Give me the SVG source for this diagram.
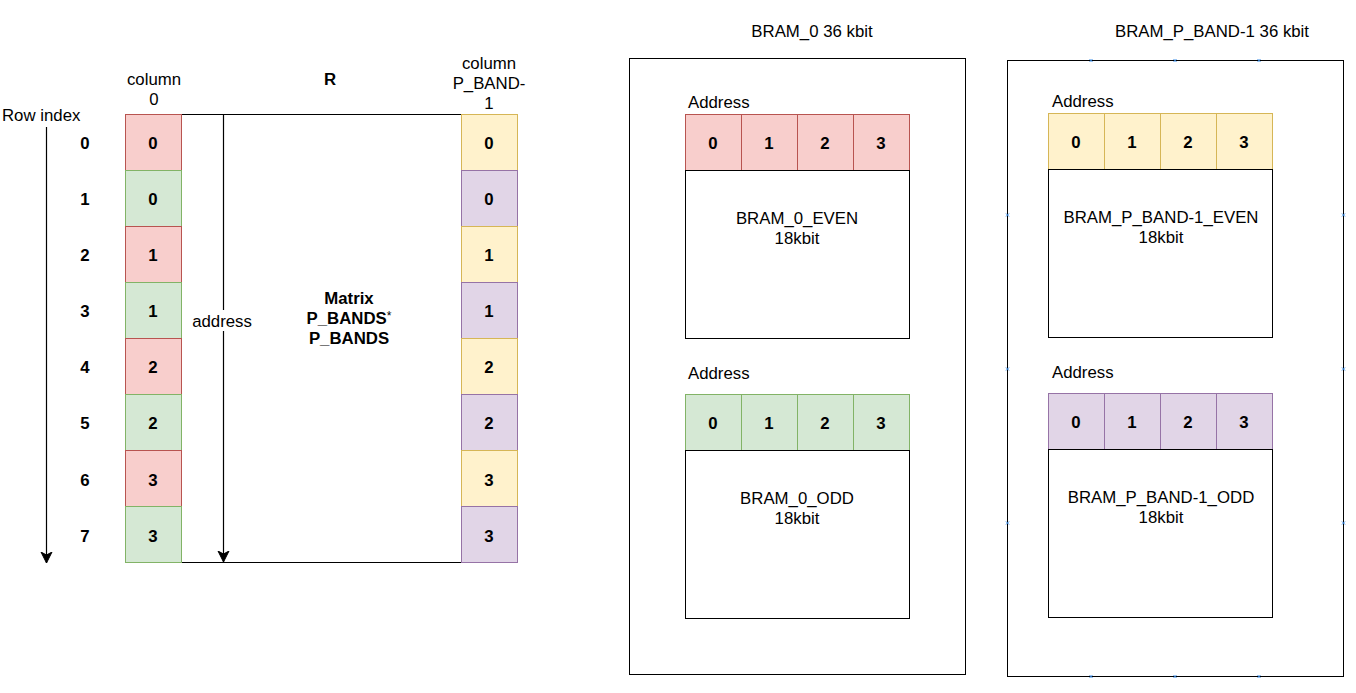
<svg xmlns="http://www.w3.org/2000/svg" width="1356" height="693" viewBox="0 0 1356 693">
<defs>
<style>
text{font-family:"Liberation Sans",Arial,sans-serif;font-size:16.8px;fill:#000}
.b{font-weight:bold}
.m{text-anchor:middle}
.red{fill:#f8cecc;stroke:#b85450;stroke-width:1}
.grn{fill:#d5e8d4;stroke:#82b366;stroke-width:1}
.yel{fill:#fff2cc;stroke:#d6b656;stroke-width:1}
.pur{fill:#e1d5e7;stroke:#9673a6;stroke-width:1}
.box{fill:#fff;stroke:#000;stroke-width:1}
.ln{fill:none;stroke:#000;stroke-width:1.2}
.x{stroke:#3b8ee8;stroke-width:1}
</style>
<marker id="arr" markerWidth="12" markerHeight="14" viewBox="0 0 12 14" refX="11" refY="7" orient="auto" markerUnits="userSpaceOnUse">
<path d="M0,1.5 L11,7 L0,12.5 L3,7 Z" fill="#000" stroke="#000" stroke-width="1"/>
</marker>
</defs>
<rect width="1356" height="693" fill="#fff"/>

<g id="matrix">
<rect class="box" x="125.5" y="114.5" width="392" height="448"/>
<text class="b m" x="330" y="85">R</text>
<text class="b m" x="349" y="304">Matrix</text>
<text class="b m" x="349" y="324">P_BANDS<tspan style="font-weight:normal;font-size:12px" dy="-4">*</tspan></text>
<text class="b m" x="349" y="344">P_BANDS</text>
</g>

<g id="row-index">
<text x="2" y="121">Row index</text>
<text class="b m" x="85" y="149">0</text>
<text class="b m" x="85" y="205">1</text>
<text class="b m" x="85" y="261">2</text>
<text class="b m" x="85" y="317">3</text>
<text class="b m" x="85" y="373">4</text>
<text class="b m" x="85" y="429">5</text>
<text class="b m" x="85" y="486">6</text>
<text class="b m" x="85" y="542">7</text>
</g>

<g id="column0">
<text class="m" x="154" y="85">column</text>
<text class="m" x="154" y="105">0</text>
<rect class="red" x="125.5" y="114.5" width="56" height="56"/>
<rect class="grn" x="125.5" y="170.5" width="56" height="56"/>
<rect class="red" x="125.5" y="226.5" width="56" height="56"/>
<rect class="grn" x="125.5" y="282.5" width="56" height="56"/>
<rect class="red" x="125.5" y="338.5" width="56" height="56"/>
<rect class="grn" x="125.5" y="394.5" width="56" height="56"/>
<rect class="red" x="125.5" y="450.5" width="56" height="56"/>
<rect class="grn" x="125.5" y="506.5" width="56" height="56"/>
<text class="b m" x="153" y="149">0</text>
<text class="b m" x="153" y="205">0</text>
<text class="b m" x="153" y="261">1</text>
<text class="b m" x="153" y="317">1</text>
<text class="b m" x="153" y="373">2</text>
<text class="b m" x="153" y="429">2</text>
<text class="b m" x="153" y="486">3</text>
<text class="b m" x="153" y="542">3</text>
</g>

<g id="columnP">
<text class="m" x="489" y="69">column</text>
<text class="m" x="489" y="89">P_BAND-</text>
<text class="m" x="489" y="109">1</text>
<rect class="yel" x="461.5" y="114.5" width="56" height="56"/>
<rect class="pur" x="461.5" y="170.5" width="56" height="56"/>
<rect class="yel" x="461.5" y="226.5" width="56" height="56"/>
<rect class="pur" x="461.5" y="282.5" width="56" height="56"/>
<rect class="yel" x="461.5" y="338.5" width="56" height="56"/>
<rect class="pur" x="461.5" y="394.5" width="56" height="56"/>
<rect class="yel" x="461.5" y="450.5" width="56" height="56"/>
<rect class="pur" x="461.5" y="506.5" width="56" height="56"/>
<text class="b m" x="489" y="149">0</text>
<text class="b m" x="489" y="205">0</text>
<text class="b m" x="489" y="261">1</text>
<text class="b m" x="489" y="317">1</text>
<text class="b m" x="489" y="373">2</text>
<text class="b m" x="489" y="429">2</text>
<text class="b m" x="489" y="486">3</text>
<text class="b m" x="489" y="542">3</text>
</g>

<g id="connectors">
<line class="ln" x1="46.5" y1="127" x2="46.5" y2="563" marker-end="url(#arr)"/>
<line class="ln" x1="223.5" y1="114" x2="223.5" y2="562" marker-end="url(#arr)"/>
<rect x="190" y="310" width="66" height="21" fill="#fff"/>
<text class="m" x="222" y="327">address</text>
</g>

<g id="bram0">
<text class="m" x="812" y="37">BRAM_0 36 kbit</text>
<rect class="box" x="629.5" y="58.5" width="336" height="616"/>
<text x="688" y="108">Address</text>
<rect class="red" x="685.5" y="114.5" width="56" height="56"/>
<rect class="red" x="741.5" y="114.5" width="56" height="56"/>
<rect class="red" x="797.5" y="114.5" width="56" height="56"/>
<rect class="red" x="853.5" y="114.5" width="56" height="56"/>
<text class="b m" x="713" y="149">0</text>
<text class="b m" x="769" y="149">1</text>
<text class="b m" x="825" y="149">2</text>
<text class="b m" x="881" y="149">3</text>
<rect class="box" x="685.5" y="170.5" width="224" height="168"/>
<text class="m" x="797" y="224">BRAM_0_EVEN</text>
<text class="m" x="797" y="244">18kbit</text>
<text x="688" y="379">Address</text>
<rect class="grn" x="685.5" y="394.5" width="56" height="56"/>
<rect class="grn" x="741.5" y="394.5" width="56" height="56"/>
<rect class="grn" x="797.5" y="394.5" width="56" height="56"/>
<rect class="grn" x="853.5" y="394.5" width="56" height="56"/>
<text class="b m" x="713" y="429">0</text>
<text class="b m" x="769" y="429">1</text>
<text class="b m" x="825" y="429">2</text>
<text class="b m" x="881" y="429">3</text>
<rect class="box" x="685.5" y="450.5" width="224" height="168"/>
<text class="m" x="797" y="504">BRAM_0_ODD</text>
<text class="m" x="797" y="524">18kbit</text>
</g>

<g id="bramP">
<text class="m" x="1212" y="37">BRAM_P_BAND-1 36 kbit</text>
<rect class="box" x="1007.5" y="60.5" width="336" height="616"/>
<text x="1052" y="107">Address</text>
<rect class="yel" x="1048.5" y="113.5" width="56" height="56"/>
<rect class="yel" x="1104.5" y="113.5" width="56" height="56"/>
<rect class="yel" x="1160.5" y="113.5" width="56" height="56"/>
<rect class="yel" x="1216.5" y="113.5" width="56" height="56"/>
<text class="b m" x="1076" y="148">0</text>
<text class="b m" x="1132" y="148">1</text>
<text class="b m" x="1188" y="148">2</text>
<text class="b m" x="1244" y="148">3</text>
<rect class="box" x="1048.5" y="169.5" width="224" height="168"/>
<text class="m" x="1161" y="223">BRAM_P_BAND-1_EVEN</text>
<text class="m" x="1161" y="243">18kbit</text>
<text x="1052" y="378">Address</text>
<rect class="pur" x="1048.5" y="393.5" width="56" height="56"/>
<rect class="pur" x="1104.5" y="393.5" width="56" height="56"/>
<rect class="pur" x="1160.5" y="393.5" width="56" height="56"/>
<rect class="pur" x="1216.5" y="393.5" width="56" height="56"/>
<text class="b m" x="1076" y="428">0</text>
<text class="b m" x="1132" y="428">1</text>
<text class="b m" x="1188" y="428">2</text>
<text class="b m" x="1244" y="428">3</text>
<rect class="box" x="1048.5" y="449.5" width="224" height="168"/>
<text class="m" x="1161" y="503">BRAM_P_BAND-1_ODD</text>
<text class="m" x="1161" y="523">18kbit</text>
<g class="x">
<path d="M1089.5,59 l3,3 m0,-3 l-3,3 M1173.5,59 l3,3 m0,-3 l-3,3 M1257.5,59 l3,3 m0,-3 l-3,3"/>
<path d="M1089.5,675 l3,3 m0,-3 l-3,3 M1173.5,675 l3,3 m0,-3 l-3,3 M1257.5,675 l3,3 m0,-3 l-3,3"/>
<path d="M1006,213.5 l3,3 m0,-3 l-3,3 M1006,367.5 l3,3 m0,-3 l-3,3 M1006,521.5 l3,3 m0,-3 l-3,3"/>
<path d="M1342,213.5 l3,3 m0,-3 l-3,3 M1342,367.5 l3,3 m0,-3 l-3,3 M1342,521.5 l3,3 m0,-3 l-3,3"/>
</g>
</g>
</svg>
